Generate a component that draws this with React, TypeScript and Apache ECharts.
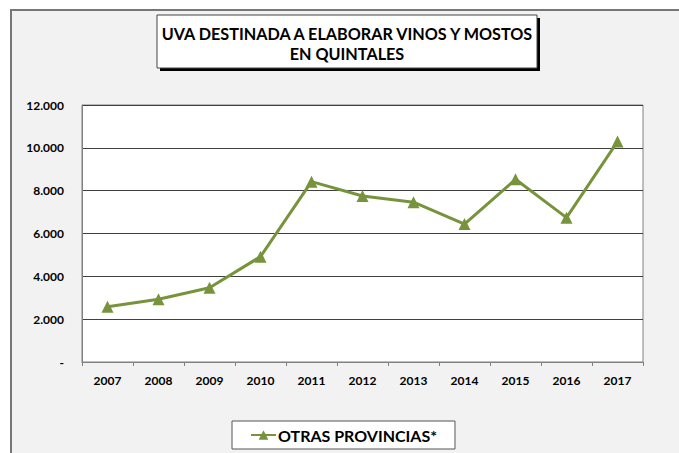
import React, { useEffect, useRef } from "react";
import * as echarts from "echarts";

const years = ["2007", "2008", "2009", "2010", "2011", "2012", "2013", "2014", "2015", "2016", "2017"];
const otrasProvincias = [2580, 2930, 3470, 4920, 8420, 7750, 7460, 6440, 8530, 6740, 10290];
const titleLines = ["UVA DESTINADA A ELABORAR VINOS Y MOSTOS", "EN QUINTALES"];
const seriesName = "OTRAS PROVINCIAS*";

const FONT = "Lato, 'Open Sans', sans-serif";

function fmt(v: number): string {
  if (v === 0) return "-";
  const s = String(Math.round(v));
  return s.replace(/\B(?=(\d{3})+(?!\d))/g, ".");
}

export default function App() {
  const ref = useRef<HTMLDivElement>(null);
  useEffect(() => {
    if (!ref.current) return;
    const chart = echarts.init(ref.current, null, { renderer: "svg" });
    chart.setOption({
      animation: false,
      backgroundColor: "#ffffff",
      textStyle: { fontFamily: FONT },
      graphic: [
        {
          type: "rect",
          z: -10,
          shape: { x: 11, y: 10, width: 700, height: 500 },
          style: { fill: "#f2f2f2", stroke: "#777777", lineWidth: 2 },
        },
        {
          type: "rect",
          shape: { x: 160, y: 18, width: 380, height: 53 },
          style: { fill: "#000000" },
        },
        {
          type: "rect",
          shape: { x: 157, y: 15, width: 380, height: 53 },
          style: { fill: "#ffffff", stroke: "#444444", lineWidth: 1 },
        },
        {
          type: "text",
          x: 347,
          y: 33,
          style: {
            text: titleLines[0],
            fontFamily: FONT,
            fontWeight: "bold",
            fontSize: 16.2,
            fill: "#000000",
            align: "center",
            verticalAlign: "middle",
          },
        },
        {
          type: "text",
          x: 347,
          y: 53,
          style: {
            text: titleLines[1],
            fontFamily: FONT,
            fontWeight: "bold",
            fontSize: 16.2,
            fill: "#000000",
            align: "center",
            verticalAlign: "middle",
          },
        },
      ],
      grid: {
        left: 82,
        right: 36,
        top: 105,
        bottom: 91,
        show: true,
        backgroundColor: "#ffffff",
        borderColor: "#808080",
        borderWidth: 1,
      },
      legend: {
        left: 232,
        top: 421,
        padding: [6, 18, 6, 18],
        backgroundColor: "#ffffff",
        borderColor: "#555555",
        borderWidth: 1,
        itemWidth: 25,
        itemHeight: 12,
        itemGap: 2,
        textStyle: { fontFamily: FONT, fontWeight: "bold", fontSize: 16, color: "#000000", padding: [0, 0, 0, -3] },
        data: [seriesName],
      },
      xAxis: {
        type: "category",
        data: years,
        boundaryGap: true,
        axisLine: { show: true, lineStyle: { color: "#808080", width: 1 } },
        axisTick: { show: true, length: 4, inside: false, lineStyle: { color: "#808080" } },
        axisLabel: {
          fontFamily: FONT,
          fontWeight: "bold",
          fontSize: 12,
          color: "#000000",
          margin: 12,
        },
      },
      yAxis: {
        type: "value",
        min: 0,
        max: 12000,
        interval: 2000,
        axisLine: { show: true, lineStyle: { color: "#808080", width: 1 } },
        axisTick: { show: false },
        splitLine: { show: true, lineStyle: { color: "#404040", width: 1 } },
        axisLabel: {
          fontFamily: FONT,
          fontWeight: "bold",
          fontSize: 12,
          color: "#000000",
          margin: 18,
          formatter: (v: number) => fmt(v),
        },
      },
      series: [
        {
          name: seriesName,
          type: "line",
          data: otrasProvincias,
          symbol: "triangle",
          symbolSize: 12,
          lineStyle: { color: "#77933c", width: 3 },
          itemStyle: { color: "#77933c" },
        },
      ],
    });
    return () => chart.dispose();
  }, []);
  return (
    <div
      ref={ref}
      style={{ position: "fixed", left: 0, top: 0, width: 679, height: 453 }}
    />
  );
}
